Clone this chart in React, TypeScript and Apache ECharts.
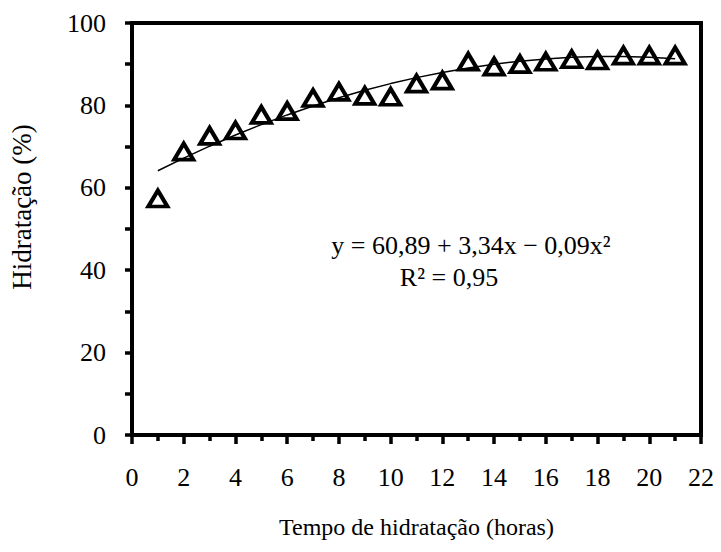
import React, { useEffect, useRef } from "react";
import * as echarts from "echarts";

const hours = [1, 2, 3, 4, 5, 6, 7, 8, 9, 10, 11, 12, 13, 14, 15, 16, 17, 18, 19, 20, 21];
const hydration = [57.4, 68.8, 72.6, 73.9, 77.7, 78.6, 81.8, 83.3, 82.3, 82.1, 85.3, 86.0, 90.6, 89.4, 90.0, 90.6, 91.2, 90.9, 92.1, 92.1, 92.1];
const fitted = [64.14, 67.21, 70.1, 72.81, 75.34, 77.69, 79.86, 81.85, 83.66, 85.29, 86.74, 88.01, 89.1, 90.01, 90.74, 91.29, 91.66, 91.85, 91.86, 91.69, 91.34];
const xTicks = [0, 2, 4, 6, 8, 10, 12, 14, 16, 18, 20, 22];
const yTicks = [0, 20, 40, 60, 80, 100];
const xTitle = "Tempo de hidratação (horas)";
const yTitle = "Hidratação (%)";
const equation = "y = 60,89 + 3,34x − 0,09x²";
const r2 = "R² = 0,95";

const FONT = "Liberation Serif";
const GRID = { left: 132, right: 20, top: 23, bottom: 117 };
const W = 721;
const H = 552;

export default function App() {
  const ref = useRef<HTMLDivElement>(null);
  useEffect(() => {
    if (!ref.current) return;
    const chart = echarts.init(ref.current, null, { renderer: "svg" });
    const axisStroke = { color: "#000", width: 4, opacity: 1, type: "solid" };
    const tickStroke = { color: "#000", width: 3.5, opacity: 1, type: "solid" };
    chart.setOption({
      animation: false,
      backgroundColor: "#fff",
      textStyle: { fontFamily: FONT, color: "#000" },
      grid: { ...GRID, show: false, containLabel: false, outerBoundsMode: "none" },
      xAxis: {
        type: "value",
        min: xTicks[0],
        max: xTicks[xTicks.length - 1],
        interval: 2,
        axisLine: { show: true, onZero: false, lineStyle: axisStroke },
        axisTick: { show: true, length: 9, lineStyle: tickStroke },
        minorTick: { show: true, splitNumber: 2, length: 6, lineStyle: tickStroke },
        splitLine: { show: false },
        minorSplitLine: { show: false },
        axisLabel: { color: "#000", fontSize: 26, fontFamily: FONT, margin: 29 },
        name: xTitle,
        nameLocation: "middle",
        nameGap: 80,
        nameTextStyle: { color: "#000", fontSize: 24, fontFamily: FONT },
      },
      yAxis: {
        type: "value",
        min: yTicks[0],
        max: yTicks[yTicks.length - 1],
        interval: 20,
        axisLine: { show: true, onZero: false, lineStyle: axisStroke },
        axisTick: { show: true, length: 7, lineStyle: tickStroke },
        minorTick: { show: true, splitNumber: 2, length: 7, lineStyle: tickStroke },
        splitLine: { show: false },
        minorSplitLine: { show: false },
        axisLabel: { color: "#000", fontSize: 26, fontFamily: FONT, margin: 26 },
      },
      graphic: [
        {
          type: "rect",
          z: 10,
          silent: true,
          shape: {
            x: GRID.left,
            y: GRID.top,
            width: W - GRID.left - GRID.right,
            height: H - GRID.top - GRID.bottom,
          },
          style: { fill: "none", stroke: "#000", lineWidth: 4 },
        },
        {
          type: "text",
          x: 22,
          y: 207,
          rotation: Math.PI / 2,
          style: {
            text: yTitle,
            fill: "#000",
            fontSize: 27,
            fontFamily: FONT,
            align: "center",
            verticalAlign: "middle",
          },
        },
        {
          type: "text",
          x: 471,
          y: 245,
          style: {
            text: equation,
            fill: "#000",
            fontSize: 26,
            fontFamily: FONT,
            align: "center",
            verticalAlign: "middle",
          },
        },
        {
          type: "text",
          x: 449,
          y: 277,
          style: {
            text: r2,
            fill: "#000",
            fontSize: 26,
            fontFamily: FONT,
            align: "center",
            verticalAlign: "middle",
          },
        },
      ],
      series: [
        {
          type: "line",
          data: hours.map((h, i) => [h, fitted[i]]),
          showSymbol: false,
          smooth: false,
          lineStyle: { color: "#000", width: 1.5, opacity: 1 },
          z: 2,
        },
        {
          type: "scatter",
          data: hours.map((h, i) => [h, hydration[i]]),
          symbol: "triangle",
          symbolSize: [19, 16],
          itemStyle: { color: "rgba(255,255,255,0)", borderColor: "#000", borderWidth: 4, opacity: 1 },
          z: 3,
        },
      ],
    });
    return () => chart.dispose();
  }, []);
  return (
    <div
      ref={ref}
      style={{ position: "absolute", left: 0, top: 0, width: W, height: H }}
    />
  );
}
